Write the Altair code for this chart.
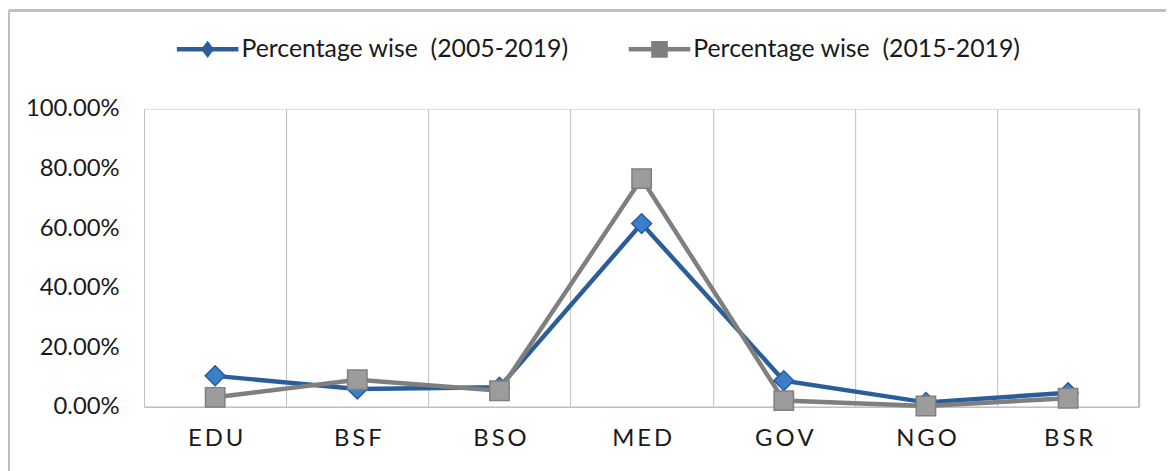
import altair as alt
import pandas as pd

categories = ["EDU", "BSF", "BSO", "MED", "GOV", "NGO", "BSR"]
series_names = ["Percentage wise\u00a0\u00a0(2005-2019)", "Percentage wise\u00a0\u00a0(2015-2019)"]
values_2005_2019 = [0.104, 0.060, 0.066, 0.615, 0.088, 0.015, 0.047]
values_2015_2019 = [0.032, 0.091, 0.054, 0.766, 0.021, 0.003, 0.029]
y_ticks = [0, 0.2, 0.4, 0.6, 0.8, 1.0]

rows = []
for c, v in zip(categories, values_2005_2019):
    rows.append({"cat": c, "series": series_names[0], "value": v})
for c, v in zip(categories, values_2015_2019):
    rows.append({"cat": c, "series": series_names[1], "value": v})
df = pd.DataFrame(rows)

W, H = 1002, 300
FONT = "Lato"
dark = ["#2B5E98", "#7F7F7F"]

x_enc = alt.X("cat:N", sort=categories, title=None,
              scale=alt.Scale(type="band", paddingInner=0, paddingOuter=0),
              axis=alt.Axis(tickBand="extent", grid=True, gridColor="#BFBFBF", gridWidth=1,
                            ticks=False, domain=True, domainColor="#BFBFBF", domainWidth=1.5,
                            labelFont=FONT, labelFontSize=24, labelColor="#1a1a1a",
                            labelPadding=20, labelAngle=0,
                            labelExpr="join(split(datum.label, ''), '\u2009')"))
y_enc = alt.Y("value:Q", title=None,
              scale=alt.Scale(domain=[0, 1], nice=False),
              axis=alt.Axis(values=y_ticks, format=".2%", grid=False, ticks=False, domain=False,
                            labelFont=FONT, labelFontSize=24, labelColor="#1a1a1a",
                            labelPadding=25))

base = alt.Chart(df).encode(x=x_enc, y=y_enc)

line1 = base.transform_filter(alt.datum.series == series_names[0]).mark_line(
    strokeWidth=4.5, color=dark[0])
line2 = base.transform_filter(alt.datum.series == series_names[1]).mark_line(
    strokeWidth=4.5, color=dark[1])

diamonds = base.transform_filter(alt.datum.series == series_names[0]).mark_point(
    shape="diamond", size=400, filled=True, fill="#3B7FCB", stroke="#2B5E98", strokeWidth=1.5, opacity=1
)
squares = base.transform_filter(alt.datum.series == series_names[1]).mark_point(
    shape="square", size=380, filled=True, fill="#9C9C9C", stroke="#7F7F7F", strokeWidth=1.5, opacity=1
)

leg_paths = [
    "M-1,-0.075L1,-0.075L1,0.075L-1,0.075Z M0,-0.28L0.21,0L0,0.28L-0.21,0Z",
    "M-1,-0.075L1,-0.075L1,0.075L-1,0.075Z M-0.27,-0.27L0.27,-0.27L0.27,0.27L-0.27,0.27Z",
]
legend_layer = base.mark_point(filled=True, size=0, strokeWidth=0, opacity=1).encode(
    color=alt.Color("series:N", scale=alt.Scale(domain=series_names, range=dark),
                    legend=alt.Legend(title=None, orient="none", legendX=33, legendY=-91,
                                      direction="horizontal", columns=2, columnPadding=60,
                                      symbolSize=3844, symbolOpacity=1, symbolStrokeWidth=0,
                                      labelFont=FONT, labelFontSize=25, labelColor="#1a1a1a",
                                      labelLimit=600, labelOffset=3)),
    shape=alt.Shape("series:N", scale=alt.Scale(domain=series_names, range=leg_paths)),
)

right_edge = alt.Chart(df).mark_rule(color="#BFBFBF", strokeWidth=1).encode(
    x=alt.value(W), y=alt.value(0), y2=alt.value(H)
)
border_left = alt.Chart(df).mark_rule(color="#BFBFBF", strokeWidth=2).encode(
    x=alt.value(-136), y=alt.value(-99), y2=alt.value(H + 120)
)
border_top = alt.Chart(df).mark_rule(color="#BFBFBF", strokeWidth=2).encode(
    x=alt.value(-136), x2=alt.value(W + 80), y=alt.value(-99)
)

chart = alt.layer(border_left, border_top, right_edge, line1, line2, diamonds, squares,
                  legend_layer).properties(
    width=W, height=H,
    padding={"left": 137, "top": 100, "right": 27, "bottom": 63},
    autosize="none",
).configure_view(stroke=None).configure(background="white")

chart.save("out.html", embed_options={"renderer": "svg", "actions": False})
